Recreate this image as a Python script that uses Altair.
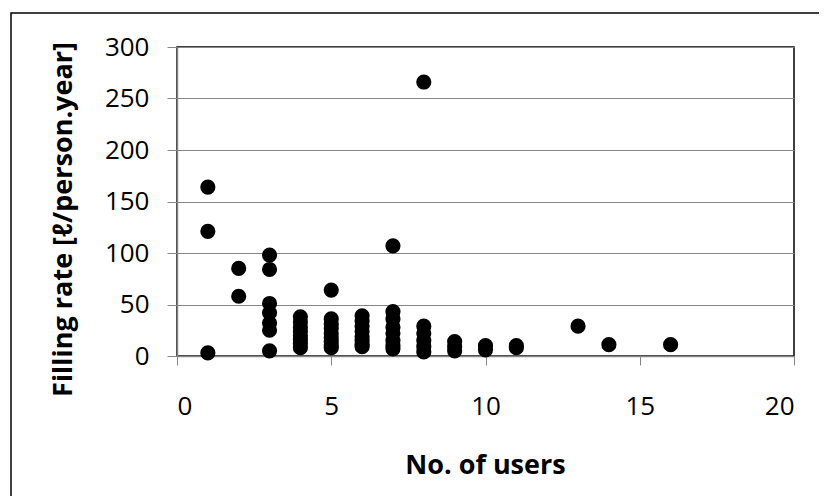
import altair as alt
import pandas as pd

# Data
users = [1, 1, 1,
         2, 2,
         3, 3, 3, 3, 3, 3, 3,
         4, 4, 4, 4, 4, 4, 4, 4,
         5, 5, 5, 5, 5, 5, 5, 5, 5,
         6, 6, 6, 6, 6, 6, 6, 6,
         7, 7, 7, 7, 7, 7, 7, 7,
         8, 8, 8, 8, 8, 8,
         9, 9, 9,
         10, 10,
         11, 11,
         13, 14, 16]
filling = [164, 121, 3,
           85, 58,
           98, 84, 51, 42, 32, 25, 5,
           38, 33, 28, 24, 20, 16, 12, 8,
           64, 36, 31, 27, 22, 18, 14, 10, 8,
           39, 34, 29, 24, 19, 15, 11, 9,
           107, 43, 36, 28, 22, 15, 10, 7,
           266, 29, 22, 15, 9, 4,
           14, 9, 5,
           10, 6,
           10, 8,
           29, 11, 11]

x_ticks = [0, 5, 10, 15, 20]
y_ticks = [0, 50, 100, 150, 200, 250, 300]

df = pd.DataFrame({"users": users, "filling": filling})

FONT = "Open Sans"
GRID = "#868686"

points = alt.Chart(df).mark_circle(size=230, color="black", opacity=1).encode(
    x=alt.X("users:Q",
            scale=alt.Scale(domain=[0, 20], nice=False),
            axis=alt.Axis(values=x_ticks, grid=False, title="No. of users",
                          titleFontSize=27, titleFontWeight="bold", titleFont=FONT,
                          titleColor="black", titleX=308, titleY=109,
                          titleBaseline="middle", titleAlign="center",
                          labelFontSize=26, labelFont=FONT, labelColor="black",
                          labelPadding=28, tickSize=9, tickColor=GRID,
                          domainColor=GRID, domainWidth=1.5)),
    y=alt.Y("filling:Q",
            scale=alt.Scale(domain=[0, 300], nice=False),
            axis=alt.Axis(values=y_ticks, grid=True, gridColor=GRID, gridWidth=1.2,
                          title="Filling rate [ℓ/person.year]",
                          titleFontSize=27, titleFontWeight="bold", titleFont=FONT,
                          titleColor="black", titleAngle=-90, titleY=172,
                          titleX=-114, titleBaseline="middle", titleAlign="center",
                          labelFontSize=26, labelFont=FONT, labelColor="black",
                          labelPadding=18, tickSize=10, tickColor=GRID,
                          domainColor=GRID, domainWidth=1.5)),
)

frame = alt.Chart(pd.DataFrame({"a": [0]})).mark_rect(
    filled=False, stroke="black", strokeWidth=1.5, clip=False
).encode(
    x=alt.value(-166), x2=alt.value(700),
    y=alt.value(-34), y2=alt.value(500),
)

chart = alt.layer(frame, points).properties(
    width=617, height=309,
    padding={"left": 169, "top": 39, "right": 25, "bottom": 140},
    autosize=alt.AutoSizeParams(type="none"),
    background="white",
).configure_view(stroke="black", strokeWidth=1.5)

chart.save("out.html", embed_options={"renderer": "svg", "actions": False})
